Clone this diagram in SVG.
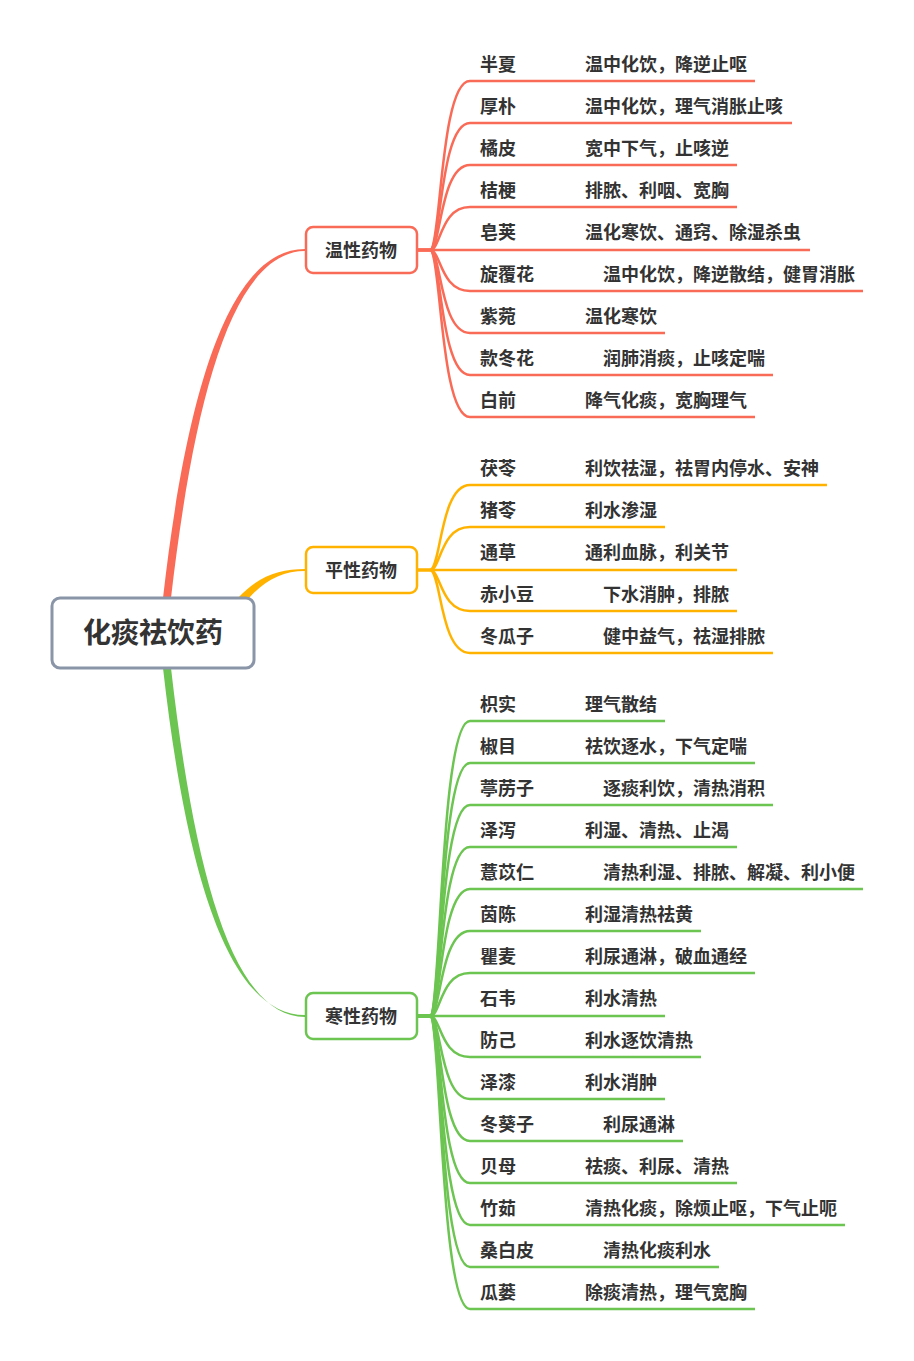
<svg xmlns="http://www.w3.org/2000/svg" width="914" height="1361" viewBox="0 0 914 1361">
<style>
text{font-family:"Noto Sans CJK SC","Noto Sans",sans-serif;font-weight:bold;fill:#333333;font-size:18px}
.root{font-size:28px}
.c{text-anchor:middle}
.lr{fill:none;stroke:#F96B57;stroke-width:2.5}
.lo{fill:none;stroke:#FFB300;stroke-width:2.5}
.lg{fill:none;stroke:#6CC451;stroke-width:2.5}
.br{fill:#fff;stroke-width:2.5}
</style>
<rect width="914" height="1361" fill="#fff"/>
<g id="connectors">
<path d="M163,598 C186,396 228,249 305,249 L305,251 C232,252 194,400 171,598 Z" fill="#F96B57"/>
<path d="M238,598 C258,576 280,569 305,569 L305,571 C283,571 265,580 249,598 Z" fill="#FFB300"/>
<path d="M163,668 C186,872 228,1015 305,1015 L305,1017 C232,1017 194,870 171,668 Z" fill="#6CC451"/>
<g class="lr">
<path d="M417,250 L430,250 C441,250 440,81 470,81 L755,81"/>
<path d="M417,250 L430,250 C441,250 440,123 470,123 L792,123"/>
<path d="M417,250 L430,250 C441,250 440,165 470,165 L737,165"/>
<path d="M417,250 L430,250 C441,250 440,207 470,207 L737,207"/>
<path d="M417,250 L810,250"/>
<path d="M417,250 L430,250 C441,250 440,291 470,291 L863,291"/>
<path d="M417,250 L430,250 C441,250 440,333 470,333 L665,333"/>
<path d="M417,250 L430,250 C441,250 440,375 470,375 L773,375"/>
<path d="M417,250 L430,250 C441,250 440,417 470,417 L755,417"/>
</g>
<g class="lo">
<path d="M417,570 L430,570 C441,570 440,485 470,485 L827,485"/>
<path d="M417,570 L430,570 C441,570 440,527 470,527 L665,527"/>
<path d="M417,570 L737,570"/>
<path d="M417,570 L430,570 C441,570 440,611 470,611 L737,611"/>
<path d="M417,570 L430,570 C441,570 440,653 470,653 L773,653"/>
</g>
<g class="lg">
<path d="M417,1016 L430,1016 C441,1016 440,721 470,721 L665,721"/>
<path d="M417,1016 L430,1016 C441,1016 440,763 470,763 L755,763"/>
<path d="M417,1016 L430,1016 C441,1016 440,805 470,805 L773,805"/>
<path d="M417,1016 L430,1016 C441,1016 440,847 470,847 L737,847"/>
<path d="M417,1016 L430,1016 C441,1016 440,889 470,889 L863,889"/>
<path d="M417,1016 L430,1016 C441,1016 440,931 470,931 L701,931"/>
<path d="M417,1016 L430,1016 C441,1016 440,973 470,973 L755,973"/>
<path d="M417,1016 L665,1016"/>
<path d="M417,1016 L430,1016 C441,1016 440,1057 470,1057 L701,1057"/>
<path d="M417,1016 L430,1016 C441,1016 440,1099 470,1099 L665,1099"/>
<path d="M417,1016 L430,1016 C441,1016 440,1141 470,1141 L683,1141"/>
<path d="M417,1016 L430,1016 C441,1016 440,1183 470,1183 L737,1183"/>
<path d="M417,1016 L430,1016 C441,1016 440,1225 470,1225 L845,1225"/>
<path d="M417,1016 L430,1016 C441,1016 440,1267 470,1267 L719,1267"/>
<path d="M417,1016 L430,1016 C441,1016 440,1309 470,1309 L755,1309"/>
</g>
</g>
<g id="root">
<rect x="52" y="598" width="202" height="70" rx="8" fill="#fff" stroke="#8A96A8" stroke-width="3"/>
<text class="root c" x="153" y="643">化痰祛饮药</text>
</g>
<g id="warm">
<rect class="br" x="306" y="227" width="111" height="46" rx="7" stroke="#F96B57"/>
<text class="c" x="361" y="257">温性药物</text>
</g>
<g id="neutral">
<rect class="br" x="306" y="547" width="111" height="46" rx="7" stroke="#FFB300"/>
<text class="c" x="361" y="577">平性药物</text>
</g>
<g id="cold">
<rect class="br" x="306" y="993" width="111" height="46" rx="7" stroke="#6CC451"/>
<text class="c" x="361" y="1023">寒性药物</text>
</g>
<g id="warm-leaves" transform="translate(0,1.5)">
<g id="w1"><text x="480" y="69">半夏</text><text x="585" y="69">温中化饮，降逆止呕</text></g>
<g id="w2"><text x="480" y="111">厚朴</text><text x="585" y="111">温中化饮，理气消胀止咳</text></g>
<g id="w3"><text x="480" y="153">橘皮</text><text x="585" y="153">宽中下气，止咳逆</text></g>
<g id="w4"><text x="480" y="195">桔梗</text><text x="585" y="195">排脓、利咽、宽胸</text></g>
<g id="w5"><text x="480" y="237">皂荚</text><text x="585" y="237">温化寒饮、通窍、除湿杀虫</text></g>
<g id="w6"><text x="480" y="279">旋覆花</text><text x="603" y="279">温中化饮，降逆散结，健胃消胀</text></g>
<g id="w7"><text x="480" y="321">紫菀</text><text x="585" y="321">温化寒饮</text></g>
<g id="w8"><text x="480" y="363">款冬花</text><text x="603" y="363">润肺消痰，止咳定喘</text></g>
<g id="w9"><text x="480" y="405">白前</text><text x="585" y="405">降气化痰，宽胸理气</text></g>
</g>
<g id="neutral-leaves" transform="translate(0,1.5)">
<g id="n1"><text x="480" y="473">茯苓</text><text x="585" y="473">利饮祛湿，祛胃内停水、安神</text></g>
<g id="n2"><text x="480" y="515">猪苓</text><text x="585" y="515">利水渗湿</text></g>
<g id="n3"><text x="480" y="557">通草</text><text x="585" y="557">通利血脉，利关节</text></g>
<g id="n4"><text x="480" y="599">赤小豆</text><text x="603" y="599">下水消肿，排脓</text></g>
<g id="n5"><text x="480" y="641">冬瓜子</text><text x="603" y="641">健中益气，祛湿排脓</text></g>
</g>
<g id="cold-leaves" transform="translate(0,1.5)">
<g id="c1"><text x="480" y="709">枳实</text><text x="585" y="709">理气散结</text></g>
<g id="c2"><text x="480" y="751">椒目</text><text x="585" y="751">祛饮逐水，下气定喘</text></g>
<g id="c3"><text x="480" y="793">葶苈子</text><text x="603" y="793">逐痰利饮，清热消积</text></g>
<g id="c4"><text x="480" y="835">泽泻</text><text x="585" y="835">利湿、清热、止渴</text></g>
<g id="c5"><text x="480" y="877">薏苡仁</text><text x="603" y="877">清热利湿、排脓、解凝、利小便</text></g>
<g id="c6"><text x="480" y="919">茵陈</text><text x="585" y="919">利湿清热祛黄</text></g>
<g id="c7"><text x="480" y="961">瞿麦</text><text x="585" y="961">利尿通淋，破血通经</text></g>
<g id="c8"><text x="480" y="1003">石韦</text><text x="585" y="1003">利水清热</text></g>
<g id="c9"><text x="480" y="1045">防己</text><text x="585" y="1045">利水逐饮清热</text></g>
<g id="c10"><text x="480" y="1087">泽漆</text><text x="585" y="1087">利水消肿</text></g>
<g id="c11"><text x="480" y="1129">冬葵子</text><text x="603" y="1129">利尿通淋</text></g>
<g id="c12"><text x="480" y="1171">贝母</text><text x="585" y="1171">祛痰、利尿、清热</text></g>
<g id="c13"><text x="480" y="1213">竹茹</text><text x="585" y="1213">清热化痰，除烦止呕，下气止呃</text></g>
<g id="c14"><text x="480" y="1255">桑白皮</text><text x="603" y="1255">清热化痰利水</text></g>
<g id="c15"><text x="480" y="1297">瓜蒌</text><text x="585" y="1297">除痰清热，理气宽胸</text></g>
</g>
</svg>
